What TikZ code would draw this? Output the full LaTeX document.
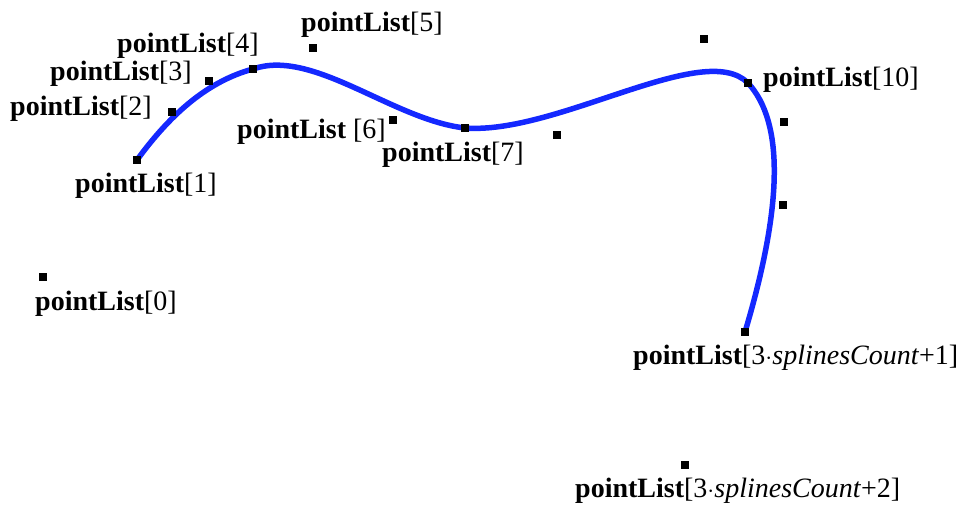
\documentclass[tikz,border=0pt]{standalone}
\usepackage{fontspec}
\setmainfont{Liberation Serif}
\begin{document}
\begin{tikzpicture}[x=1pt,y=-1pt,
  pt/.style={fill=black,inner sep=0pt,minimum size=7.5pt,rectangle},
  lbl/.style={anchor=base west,inner sep=0pt,font=\fontsize{28}{30}\selectfont},
  spline/.style={draw={rgb,255:red,20;green,40;blue,255},line width=5.5pt,line cap=round}]
\useasboundingbox (0,0) rectangle (968,506);
% control / curve points
\coordinate (p0) at (43,277);
\coordinate (p1) at (137,160);
\coordinate (p2) at (172,112);
\coordinate (p3) at (209,81);
\coordinate (p4) at (253,69);
\coordinate (p5) at (313,48);
\coordinate (p6) at (393,120);
\coordinate (p7) at (465,128);
\coordinate (p8) at (557,135);
\coordinate (p9) at (704,39);
\coordinate (p10) at (748,83);
\coordinate (p11) at (784,122);
\coordinate (p12) at (783,205);
\coordinate (p13) at (745,332);
\coordinate (p14) at (685,465);
% spline
\draw[spline] (p1) .. controls (p2) and (p3) .. (p4)
  .. controls (p5) and (p6) .. (p7)
  .. controls (p8) and (p9) .. (p10)
  .. controls (p11) and (p12) .. (p13);
% markers
\foreach \i in {0,...,14} \node[pt] (m\i) at (p\i) {};
% labels
\node[lbl] (l0) at (35,310) {\textbf{pointList}[0]};
\node[lbl] (l1) at (75,192) {\textbf{pointList}[1]};
\node[lbl] (l2) at (10,115) {\textbf{pointList}[2]};
\node[lbl] (l3) at (50,80) {\textbf{pointList}[3]};
\node[lbl] (l4) at (117,52) {\textbf{pointList}[4]};
\node[lbl] (l5) at (301,31) {\textbf{pointList}[5]};
\node[lbl] (l6) at (237,138) {\textbf{pointList} [6]};
\node[lbl] (l7) at (382,161) {\textbf{pointList}[7]};
\node[lbl] (l10) at (763,86) {\textbf{pointList}[10]};
\node[lbl] (l13) at (633,364) {\textbf{pointList}[3$\cdot$\textit{splinesCount}+1]};
\node[lbl] (l14) at (575,497) {\textbf{pointList}[3$\cdot$\textit{splinesCount}+2]};
\end{tikzpicture}
\end{document}
